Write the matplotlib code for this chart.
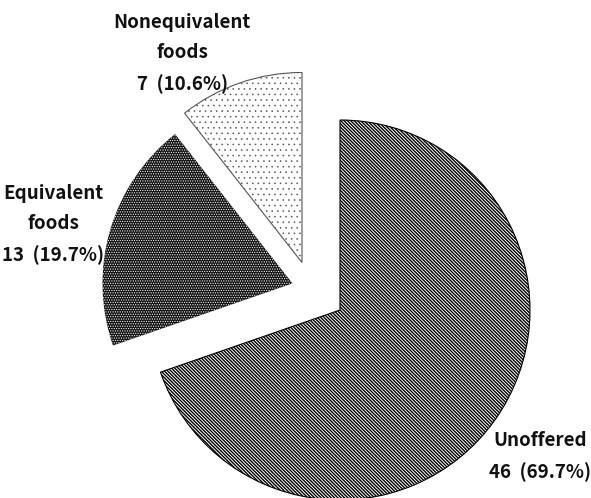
import matplotlib
matplotlib.use("Agg")
import matplotlib.pyplot as plt

plt.rcParams["font.family"] = ["Noto Sans CJK KR", "DejaVu Sans"]
plt.rcParams["hatch.linewidth"] = 1.0

categories = ["Unoffered", "Equivalent\nfoods", "Nonequivalent\nfoods"]
counts = [46, 13, 7]

total = sum(counts)
labels = [f"{c}\n{n}  ({n / total * 100:.1f}%)" for c, n in zip(categories, counts)]

fig = plt.figure(figsize=(5.91, 4.98), dpi=100)
ax = fig.add_axes([0, 0, 1, 1])

# pie radius = 190 px, centre at pixel (340, 310)
R = 190.0
xlim = (-340 / R, (591 - 340) / R)
ylim = (-(498 - 310) / R, 310 / R)

wedges, _ = ax.pie(
    counts,
    startangle=90,
    counterclock=False,
    radius=1.0,
)

# pulled-out slices (offset of each slice centre, in radius units)
offsets = [(0.0, 0.0), (-0.25, 0.14), (-0.20, 0.25)]
for w, (dx, dy) in zip(wedges, offsets):
    w.set_center((dx, dy))


def hatch_lw(w, lw):
    if hasattr(w, "set_hatch_linewidth"):
        w.set_hatch_linewidth(lw)


wedges[0].set(facecolor="white", edgecolor="black", hatch="\\" * 10, linewidth=0.8)
hatch_lw(wedges[0], 1.0)
wedges[1].set(facecolor="#151515", edgecolor="white", hatch="." * 7, linewidth=0)
hatch_lw(wedges[1], 0.5)
wedges[2].set(facecolor="white", edgecolor="#555555", hatch="...", linewidth=0.8)
hatch_lw(wedges[2], 0.4)

label_pos = [(1.055, -0.77), (-1.51, 0.45), (-0.83, 1.35)]
for lab, (x, y) in zip(labels, label_pos):
    ax.text(x, y, lab, ha="center", va="center", fontsize=13.5,
            fontweight="bold", linespacing=1.75, color="#111111")

ax.set_xlim(*xlim)
ax.set_ylim(*ylim)
ax.set_aspect("equal")
ax.axis("off")

fig.savefig("out.png", dpi=100)
